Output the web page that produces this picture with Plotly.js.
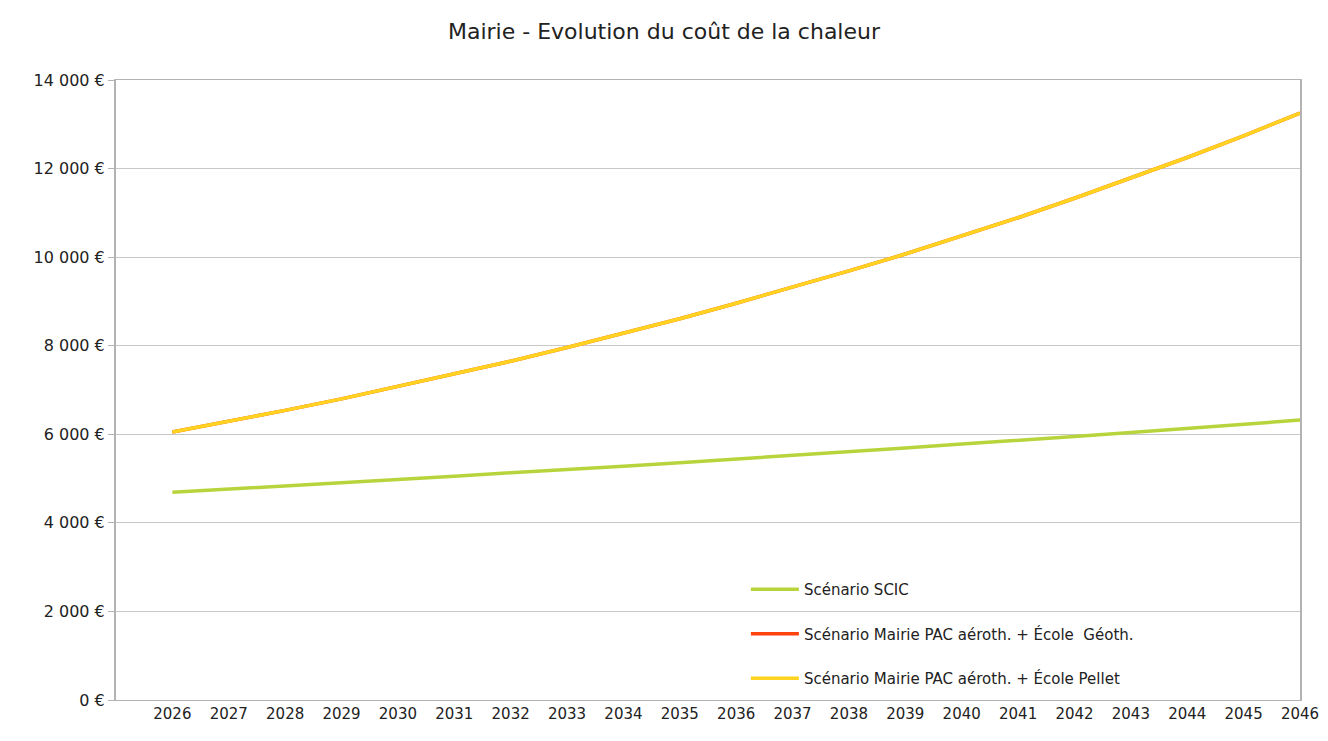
<!DOCTYPE html>
<html>
<head>
<meta charset="utf-8">
<script src="https://cdn.plot.ly/plotly-3.0.1.min.js"></script>
<style>html,body{margin:0;padding:0;background:#fff;}#chart{width:1328px;height:741px;}</style>
</head>
<body>
<div id="chart"></div>
<script>
const years = [2026,2027,2028,2029,2030,2031,2032,2033,2034,2035,2036,2037,2038,2039,2040,2041,2042,2043,2044,2045,2046];
const scic = [4690,4760,4830,4900,4980,5050,5130,5200,5280,5360,5440,5520,5610,5690,5780,5860,5950,6040,6130,6220,6320];
const geoth = [6050,6290,6540,6800,7080,7360,7650,7960,8280,8610,8960,9320,9690,10070,10480,10890,11330,11780,12250,12740,13250];
const pellet = [6050,6290,6540,6800,7080,7360,7650,7960,8280,8610,8960,9320,9690,10070,10480,10890,11330,11780,12250,12740,13250];
const seriesNames = ["Scénario SCIC", "Scénario Mairie PAC aéroth. + École  Géoth.", "Scénario Mairie PAC aéroth. + École Pellet"];
const yTickVals = [0,2000,4000,6000,8000,10000,12000,14000];
const yTickText = ["0 €","2 000 €","4 000 €","6 000 €","8 000 €","10 000 €","12 000 €","14 000 €"];
const colors = ["#b8d43c", "#ff420e", "#ffd320"];

const font = "DejaVu Sans, Liberation Sans, Arial, sans-serif";
const traces = [scic, geoth, pellet].map((ys, i) => ({
  x: years, y: ys, type: "scatter", mode: "lines",
  name: seriesNames[i], legendgroup: "g" + i,
  line: {color: colors[i], width: 3.5}
}));

const layout = {
  width: 1328, height: 741,
  margin: {l: 116, r: 28, t: 80, b: 41},
  paper_bgcolor: "#fff", plot_bgcolor: "#fff",
  font: {family: font, color: "#222", size: 15},
  title: {text: "Mairie - Evolution du coût de la chaleur", font: {size: 22, color: "#222", family: font},
          x: 0.5, xref: "container", y: 0.958, yanchor: "middle"},
  xaxis: {range: [2025, 2046], tickvals: years, ticktext: years.map(String),
          showgrid: false, zeroline: false, showline: true, linecolor: "#b3b3b3", linewidth: 1,
          mirror: true, tickfont: {size: 15, color: "#222"}, ticks: "", fixedrange: true},
  yaxis: {range: [0, 14000], tickvals: yTickVals, ticktext: yTickText,
          showgrid: true, gridcolor: "#c8c8c8", gridwidth: 1, zeroline: false,
          showline: true, linecolor: "#b3b3b3", linewidth: 2, mirror: true,
          ticks: "outside", ticklen: 6, tickcolor: "#b3b3b3",
          tickfont: {size: 16, color: "#222"}},
  legend: {x: 0.532, y: 0.205, xanchor: "left", yanchor: "top", bgcolor: "rgba(0,0,0,0)",
           font: {size: 15, color: "#222"}, traceorder: "grouped", tracegroupgap: 22, itemwidth: 48},
  showlegend: true
};
Plotly.newPlot("chart", traces, layout, {displayModeBar: false, staticPlot: true});
</script>
</body>
</html>
